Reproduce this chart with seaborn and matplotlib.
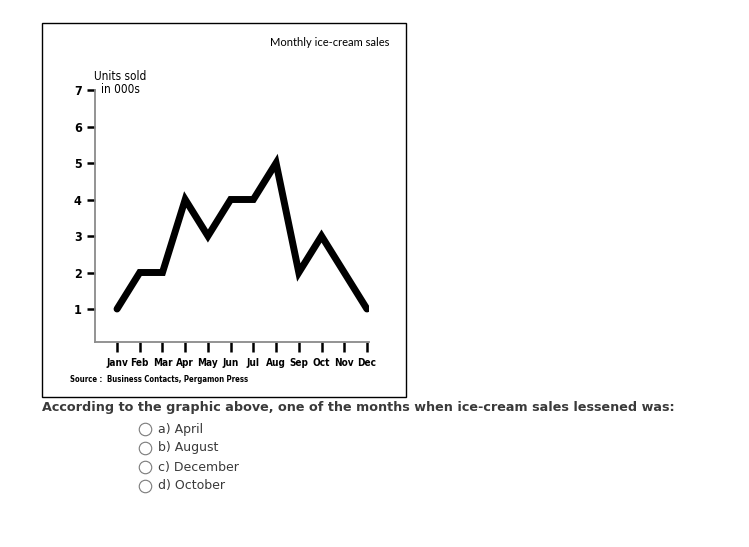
import matplotlib
matplotlib.use("Agg")
import matplotlib.pyplot as plt
from matplotlib.patches import Rectangle
from matplotlib.lines import Line2D
import seaborn as sns
import pandas as pd

months = ["Janv", "Feb", "Mar", "Apr", "May", "Jun", "Jul", "Aug", "Sep", "Oct", "Nov", "Dec"]
sales = [1, 2, 2, 4, 3, 4, 4, 5, 2, 3, 2, 1]
y_ticks = [1, 2, 3, 4, 5, 6, 7]
title = "Monthly ice-cream sales"
ylabel = "Units sold\nin 000s"
source = "Source :  Business Contacts, Pergamon Press"
question = "According to the graphic above, one of the months when ice-cream sales lessened was:"
options = ["a) April", "b) August", "c) December", "d) October"]

sns.set_style("white")
plt.rcParams["font.family"] = ["DejaVu Sans"]
narrow = "DejaVu Sans"

W, H = 749, 547
fig = plt.figure(figsize=(W / 100, H / 100), dpi=100)
fig.patch.set_facecolor("white")

def fx(px):
    return px / W

def fy(py):
    return 1 - py / H

ax = fig.add_axes([fx(95), fy(342), fx(369) - fx(95), fy(90) - fy(342)])
df = pd.DataFrame({"month": range(len(months)), "sales": sales})
sns.lineplot(data=df, x="month", y="sales", ax=ax, color="black", linewidth=5.0,
             solid_capstyle="round", solid_joinstyle="miter")
ax.set_xlim(-0.97, 11.09)
ax.set_ylim(0.096, 7)
ax.set_xlabel("")
ax.set_ylabel("")
ax.set_xticks(range(len(months)))
ax.set_xticklabels(months)
ax.set_yticks(y_ticks)
ax.set_yticklabels([str(v) for v in y_ticks])
for s in ["top", "right"]:
    ax.spines[s].set_visible(False)
for s in ["left", "bottom"]:
    ax.spines[s].set_color("#8a8a8a")
    ax.spines[s].set_linewidth(1.3)
ax.tick_params(axis="x", direction="out", length=7.5, width=1.8, color="black",
               pad=4, labelsize=7.2, labelcolor="black")
ax.tick_params(axis="y", direction="out", length=5.5, width=1.8, color="black",
               pad=4, labelsize=9, labelcolor="black")
ax.xaxis.set_ticks_position("bottom")
ax.yaxis.set_ticks_position("left")
for lab in ax.get_xticklabels():
    lab.set_family(narrow)
    lab.set_fontweight("bold")
    lab.set_fontstretch("condensed")
for lab in ax.get_yticklabels():
    lab.set_family(narrow)
    lab.set_fontweight("semibold")
    lab.set_fontstretch("condensed")
ax.patch.set_alpha(0)

fig.add_artist(Rectangle((fx(42), fy(397)), fx(406) - fx(42), fy(23) - fy(397),
                         transform=fig.transFigure, fill=False, edgecolor="black",
                         linewidth=1.0))

fig.text(fx(389), fy(42), title, ha="right", va="center", fontsize=8,
         family="Lato", color="black")
fig.text(fx(120), fy(83), ylabel, ha="center", va="center", fontsize=8.5,
         family=narrow, fontweight="medium", linespacing=1.05,
         fontstretch="condensed", color="black")
fig.text(fx(70), fy(380), source, ha="left", va="center", fontsize=5.6,
         family=narrow, fontweight="bold", fontstretch="condensed", color="black")

fig.text(fx(42), fy(407), question, ha="left", va="center", fontsize=9.2,
         fontweight="bold", color="#3a3a3a", family="DejaVu Sans")
for i, opt in enumerate(options):
    yy = 429 + i * 19
    fig.add_artist(Line2D([fx(145)], [fy(yy)], transform=fig.transFigure,
                          marker="o", markersize=9, markerfacecolor="white",
                          markeredgecolor="#7a7a7a", markeredgewidth=0.8,
                          linestyle="none"))
    fig.text(fx(158), fy(yy), opt, ha="left", va="center", fontsize=9,
             color="#3a3a3a", family="DejaVu Sans")

fig.savefig("out.png", dpi=100, facecolor="white")
